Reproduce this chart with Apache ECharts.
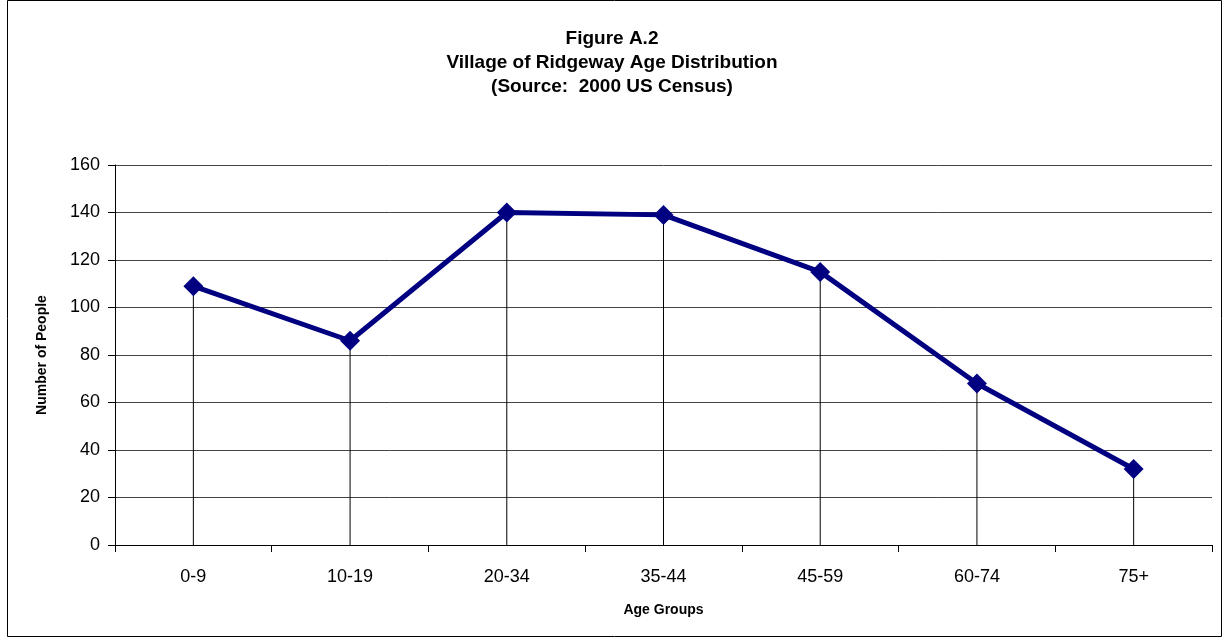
<!DOCTYPE html>
<html><head><meta charset="utf-8">
<script src="https://cdn.jsdelivr.net/npm/echarts@6/dist/echarts.min.js"></script>
<style>html,body{margin:0;padding:0;background:#fff}#c{width:1224px;height:642px}</style>
</head><body><div id="c"></div>
<script>
const categories = ['0-9','10-19','20-34','35-44','45-59','60-74','75+'];
const people = [109, 86, 140, 139, 115, 68, 32];
const yTicks = [0,20,40,60,80,100,120,140,160];
const titleLines = ['Figure A.2','Village of Ridgeway Age Distribution','(Source:  2000 US Census)'];

const chart = echarts.init(document.getElementById('c'));
const font = 'Arial, "Liberation Sans", sans-serif';
chart.setOption({
  animation: false,
  backgroundColor: '#fff',
  graphic: [{type:'rect', shape:{x:7.5,y:0.5,width:1214,height:636}, style:{fill:'none',stroke:'#000',lineWidth:1}, silent:true}],
  title: {
    text: titleLines.join('\n'), left: 'center', top: 22,
    textStyle: {fontFamily: font, fontSize: 19, fontWeight: 'bold', color: '#000', lineHeight: 24}
  },
  grid: {left: 115, right: 12, top: 165, bottom: 97},
  xAxis: {
    type: 'category', data: categories, boundaryGap: true,
    name: 'Age Groups', nameLocation: 'middle', nameGap: 58,
    nameTextStyle: {fontFamily: font, fontSize: 14, fontWeight: 'bold', color: '#000'},
    axisLine: {lineStyle: {color: '#000', width: 1}},
    axisTick: {show: true, length: 7, lineStyle: {color: '#000'}, alignWithLabel: false},
    axisLabel: {fontFamily: font, fontSize: 18, color: '#000', margin: 23},
    splitLine: {show: false}
  },
  yAxis: {
    type: 'value', min: yTicks[0], max: yTicks[yTicks.length-1], interval: 20,
    name: 'Number of People', nameLocation: 'middle', nameGap: 66,
    nameTextStyle: {fontFamily: font, fontSize: 14, fontWeight: 'bold', color: '#000'},
    axisLine: {show: true, lineStyle: {color: '#000', width: 1}},
    axisTick: {show: true, length: 7, lineStyle: {color: '#000'}},
    axisLabel: {fontFamily: font, fontSize: 18, color: '#000', margin: 15},
    splitLine: {show: true, lineStyle: {color: '#444', width: 1}}
  },
  series: [
    {type: 'bar', data: people, barWidth: 1, itemStyle: {color: '#000'}, silent: true, z: 1},
    {type: 'line', data: people, symbol: 'diamond', symbolSize: 20,
     lineStyle: {color: '#000080', width: 5}, itemStyle: {color: '#000080'}, z: 3}
  ]
});
</script></body></html>
